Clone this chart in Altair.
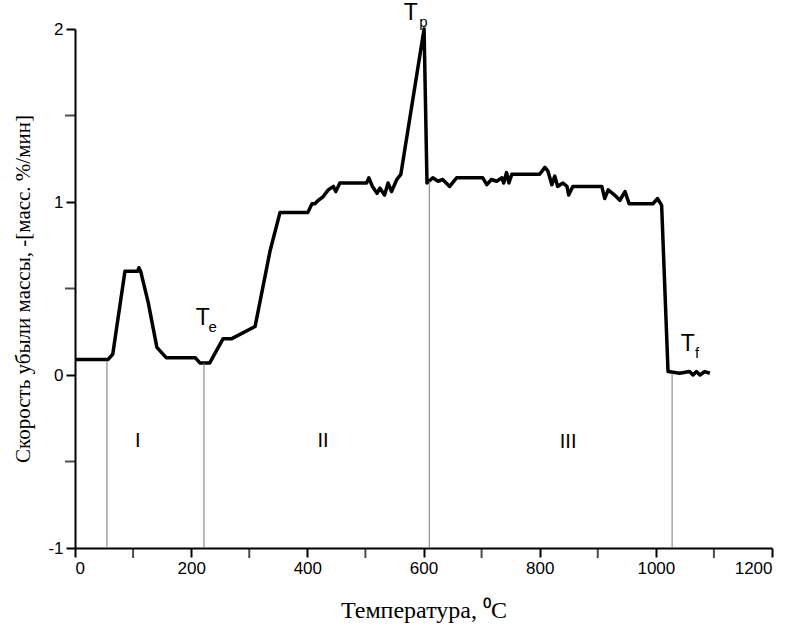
import altair as alt
import pandas as pd

# Main DTG curve (temperature °C, mass-loss rate %/min)
temp = [0, 57, 65, 86, 108, 110, 113, 126, 141, 157, 207, 215, 232, 255, 270, 310, 336,
        353, 401, 408, 413, 419, 427, 436, 445, 449, 456, 502, 506, 512, 520, 525, 533,
        539, 545, 554, 561, 601, 606, 616, 625, 633, 645, 657, 702, 709, 717, 726, 735,
        738, 743, 747, 752, 800, 809, 814, 821, 826, 831, 840, 847, 850, 857, 907, 912,
        918, 929, 938, 947, 954, 995, 1003, 1010, 1021, 1041, 1058, 1064, 1070, 1076,
        1084, 1093]
rate = [0.09, 0.09, 0.12, 0.60, 0.60, 0.62, 0.60, 0.42, 0.16, 0.10, 0.10, 0.07, 0.07,
        0.21, 0.21, 0.28, 0.72, 0.94, 0.94, 0.99, 0.99, 1.01, 1.03, 1.07, 1.09, 1.06,
        1.11, 1.11, 1.14, 1.09, 1.05, 1.08, 1.04, 1.11, 1.06, 1.13, 1.16, 2.00, 1.11,
        1.14, 1.12, 1.13, 1.09, 1.14, 1.14, 1.10, 1.13, 1.12, 1.14, 1.11, 1.17, 1.11,
        1.16, 1.16, 1.20, 1.18, 1.10, 1.15, 1.09, 1.11, 1.09, 1.04, 1.09, 1.09, 1.02,
        1.07, 1.04, 1.01, 1.06, 0.99, 0.99, 1.02, 0.98, 0.02, 0.01, 0.02, 0.00, 0.02,
        0.00, 0.02, 0.01]

# Vertical marker lines (temperature, top value)
vline_x = [55, 222, 610, 1028]
vline_top = [0.08, 0.07, 1.12, 0.01]

# Annotation labels
big_text = ["T", "T", "T", "I", "II", "III"]
big_x = [220, 578, 1055, 108, 427, 849]
big_y = [0.33, 2.09, 0.18, -0.38, -0.38, -0.39]
big_size = [23, 23, 23, 20, 20, 20]
sub_text = ["e", "p", "f"]
sub_x = [237, 600, 1071]
sub_y = [0.28, 2.04, 0.13]

# Axis tick values
x_major = list(range(0, 1201, 200))
x_minor = list(range(100, 1200, 200))
y_major = [-1, 0, 1, 2]
y_minor = [-0.5, 0.5, 1.5]

curve_df = pd.DataFrame({"t": temp, "r": rate})
vl_df = pd.DataFrame({"t": vline_x, "y0": [-1] * len(vline_x), "y1": vline_top})
big_df = pd.DataFrame({"label": big_text, "t": big_x, "r": big_y, "s": big_size})
sub_df = pd.DataFrame({"label": sub_text, "t": sub_x, "r": sub_y})
xmin_df = pd.DataFrame({"t": x_minor, "r": [-1] * len(x_minor)})
ymin_df = pd.DataFrame({"t": [0] * len(y_minor), "r": y_minor})

x_scale = alt.Scale(domain=[0, 1200], nice=False, zero=False)
y_scale = alt.Scale(domain=[-1, 2], nice=False, zero=False)

common = dict(
    grid=False,
    domainColor="#000000", domainWidth=2,
    tickColor="#000000", tickWidth=2, tickSize=9,
    labelFont="Liberation Sans", labelFontSize=17, labelColor="#000000", labelPadding=3,
    titleFont="Liberation Serif", titleFontWeight="normal", titleColor="#000000",
)

x_axis = alt.Axis(
    values=x_major,
    labelExpr="'' + datum.value",
    title="Температура, ⁰C",
    titlePadding=22, titleFontSize=24,
    **common,
)
y_axis = alt.Axis(
    values=y_major,
    labelExpr="'' + datum.value",
    title="Скорость убыли массы, -[масс. %/мин]",
    titlePadding=14, titleFontSize=21,
    **common,
)

curve = alt.Chart(curve_df).mark_line(color="black", strokeWidth=3.5, strokeJoin="round").encode(
    x=alt.X("t:Q", scale=x_scale, axis=x_axis),
    y=alt.Y("r:Q", scale=y_scale, axis=y_axis),
    order="t:Q",
)

vlines = alt.Chart(vl_df).mark_rule(color="#777777", strokeWidth=1).encode(
    x=alt.X("t:Q", scale=x_scale),
    y=alt.Y("y0:Q", scale=y_scale),
    y2="y1:Q",
)

x_minor_ticks = alt.Chart(xmin_df).mark_tick(
    orient="vertical", size=10, thickness=2, color="black", yOffset=5
).encode(x="t:Q", y="r:Q")
y_minor_ticks = alt.Chart(ymin_df).mark_tick(
    orient="horizontal", size=10, thickness=2, color="black", xOffset=-5
).encode(x="t:Q", y="r:Q")

big_labels = alt.Chart(big_df).mark_text(font="Liberation Sans", color="black", align="center", baseline="middle").encode(
    x="t:Q", y="r:Q", text="label:N", size=alt.Size("s:Q", scale=None, legend=None)
)
sub_labels = alt.Chart(sub_df).mark_text(font="Liberation Sans", fontSize=15, color="black", align="center", baseline="middle").encode(
    x="t:Q", y="r:Q", text="label:N"
)

chart = alt.layer(curve, vlines, x_minor_ticks, y_minor_ticks, big_labels, sub_labels).properties(
    width=697, height=519,
    autosize=alt.AutoSizeParams(type="none"),
    padding={"left": 75, "top": 29, "right": 26, "bottom": 95},
    background="white",
).configure_view(strokeWidth=0, strokeOpacity=0)

chart.save("out.html", embed_options={"renderer": "svg", "actions": False})
